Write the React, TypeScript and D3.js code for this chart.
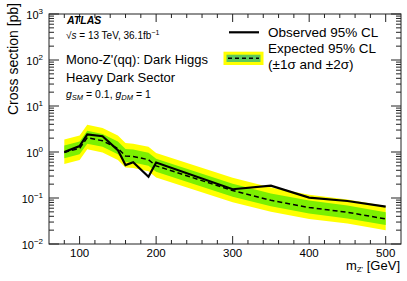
import * as d3 from 'd3'

const masses = [80, 100, 110, 130, 150, 160, 170, 190, 200, 300, 350, 400, 450, 500]
const observed = [1.0, 1.35, 2.4, 2.2, 1.1, 0.52, 0.6, 0.29, 0.59, 0.155, 0.185, 0.102, 0.086, 0.065]
const expected = [0.98, 1.2, 2.05, 1.75, 1.2, 0.82, 0.8, 0.68, 0.5, 0.145, 0.089, 0.062, 0.049, 0.035]
const plus2 = [1.87, 2.29, 3.9, 3.33, 2.29, 1.56, 1.52, 1.3, 0.95, 0.276, 0.17, 0.118, 0.093, 0.067]
const plus1 = [1.38, 1.7, 2.9, 2.47, 1.7, 1.16, 1.13, 0.96, 0.71, 0.205, 0.126, 0.088, 0.069, 0.049]
const minus1 = [0.73, 0.89, 1.52, 1.3, 0.89, 0.61, 0.59, 0.5, 0.37, 0.107, 0.066, 0.046, 0.036, 0.026]
const minus2 = [0.55, 0.67, 1.15, 0.98, 0.67, 0.46, 0.45, 0.38, 0.28, 0.081, 0.05, 0.035, 0.028, 0.02]

const xMajor = [100, 200, 300, 400, 500]
const yExponents = [-2, -1, 0, 1, 2, 3]

const W = 407
const H = 281
const m = { left: 49, right: 401, top: 14, bottom: 244 }
const font = 'Liberation Sans, Arial, Helvetica, sans-serif'

export default function App() {
  const x = d3.scaleLinear().domain([60, 520]).range([m.left, m.right])
  const y = d3.scaleLog().domain([1e-2, 1e3]).range([m.bottom, m.top])

  const band = (hi: number[], lo: number[]) =>
    d3.area<number>()
      .x(i => x(masses[i]))
      .y0(i => y(lo[i]))
      .y1(i => y(hi[i]))(d3.range(masses.length)) || ''
  const line = (vals: number[]) =>
    d3.line<number>().x(i => x(masses[i])).y(i => y(vals[i]))(d3.range(masses.length)) || ''

  const xMinor = d3.range(80, 520, 20).filter(v => v % 100 !== 0)
  const yMinor: number[] = []
  yExponents.slice(0, -1).forEach(e => {
    for (let k = 2; k <= 9; k++) yMinor.push(k * Math.pow(10, e))
  })

  const axisColor = '#222'

  return (
    <div style={{ position: 'absolute', left: 0, top: 0 }}>
      <svg width={W} height={H} style={{ display: 'block', fontFamily: font }}>
        <rect width={W} height={H} fill="#fff" />

        {/* bands */}
        <path d={band(plus2, minus2)} fill="#ffff00" />
        <path d={band(plus1, minus1)} fill="#7cf000" />
        <path d={line(expected)} fill="none" stroke="#000" strokeWidth={1.5} strokeDasharray="5,3" />
        <path d={line(observed)} fill="none" stroke="#000" strokeWidth={2.2} strokeLinejoin="miter" />

        {/* frame */}
        <rect x={m.left} y={m.top} width={m.right - m.left} height={m.bottom - m.top}
          fill="none" stroke={axisColor} strokeWidth={1} />

        {/* x ticks */}
        {xMajor.map(v => (
          <g key={'xM' + v}>
            <line x1={x(v)} x2={x(v)} y1={m.bottom} y2={m.bottom - 8} stroke={axisColor} />
            <line x1={x(v)} x2={x(v)} y1={m.top} y2={m.top + 8} stroke={axisColor} />
            <text x={x(v)} y={256.5} fontSize={11.5} textAnchor="middle" fill="#000">{v}</text>
          </g>
        ))}
        {xMinor.map(v => (
          <g key={'xm' + v}>
            <line x1={x(v)} x2={x(v)} y1={m.bottom} y2={m.bottom - 4} stroke={axisColor} />
            <line x1={x(v)} x2={x(v)} y1={m.top} y2={m.top + 4} stroke={axisColor} />
          </g>
        ))}

        {/* y ticks */}
        {yExponents.map(e => {
          const yy = y(Math.pow(10, e))
          return (
            <g key={'yM' + e}>
              <line x1={m.left} x2={m.left + 10} y1={yy} y2={yy} stroke={axisColor} />
              <line x1={m.right} x2={m.right - 10} y1={yy} y2={yy} stroke={axisColor} />
              <text x={43} y={yy + 4.5} fontSize={11} textAnchor="end" fill="#000">
                10<tspan dy={-5} fontSize={8}>{e < 0 ? '\u2212' + Math.abs(e) : e}</tspan>
              </text>
            </g>
          )
        })}
        {yMinor.map(v => (
          <g key={'ym' + v}>
            <line x1={m.left} x2={m.left + 5} y1={y(v)} y2={y(v)} stroke={axisColor} />
            <line x1={m.right} x2={m.right - 5} y1={y(v)} y2={y(v)} stroke={axisColor} />
          </g>
        ))}

        {/* axis titles */}
        <text transform="translate(18,3) rotate(-90)" fontSize={14} textAnchor="end" fill="#000">
          Cross section [pb]
        </text>
        <text x={400} y={270} fontSize={13} textAnchor="end" fill="#000">
          m<tspan fontSize={8} dy={2}>Z'</tspan><tspan dy={-2}> [GeV]</tspan>
        </text>

        {/* labels */}
        <text x={67} y={24} fontSize={10.5} fontWeight="bold" fontStyle="italic" fill="#000">ATLAS</text>
        <text x={66} y={39} fontSize={10} fill="#000">
          <tspan>{'\u221A'}</tspan><tspan fontStyle="italic">s</tspan> = 13 TeV, 36.1fb<tspan dy={-4} fontSize={7}>{'\u22121'}</tspan>
        </text>
        <text x={66} y={63.5} fontSize={13} fill="#000">Mono-Z'(qq): Dark Higgs</text>
        <text x={66} y={82} fontSize={13} fill="#000">Heavy Dark Sector</text>
        <text x={66} y={98} fontSize={10.5} fill="#000">
          <tspan fontStyle="italic">g</tspan><tspan fontSize={7.5} dy={2} fontStyle="italic">SM</tspan>
          <tspan dy={-2}> = 0.1, </tspan>
          <tspan fontStyle="italic">g</tspan><tspan fontSize={7.5} dy={2} fontStyle="italic">DM</tspan>
          <tspan dy={-2}> = 1</tspan>
        </text>

        {/* legend */}
        <line x1={229} x2={259} y1={32.3} y2={32.3} stroke="#000" strokeWidth={2.2} />
        <text x={268} y={37} fontSize={13.5} fill="#000">Observed 95% CL</text>
        <rect x={223.5} y={51.7} width={40} height={13.3} fill="#ffff00" />
        <rect x={226.5} y={54.7} width={34} height={7.3} fill="#5cc95c" />
        <line x1={228} x2={259} y1={58.3} y2={58.3} stroke="#000" strokeWidth={1.5} strokeDasharray="4,3" />
        <text x={268} y={53.3} fontSize={13.5} fill="#000">Expected 95% CL</text>
        <text x={268} y={69} fontSize={13.5} fill="#000">(±1σ and ±2σ)</text>
      </svg>
    </div>
  )
}
